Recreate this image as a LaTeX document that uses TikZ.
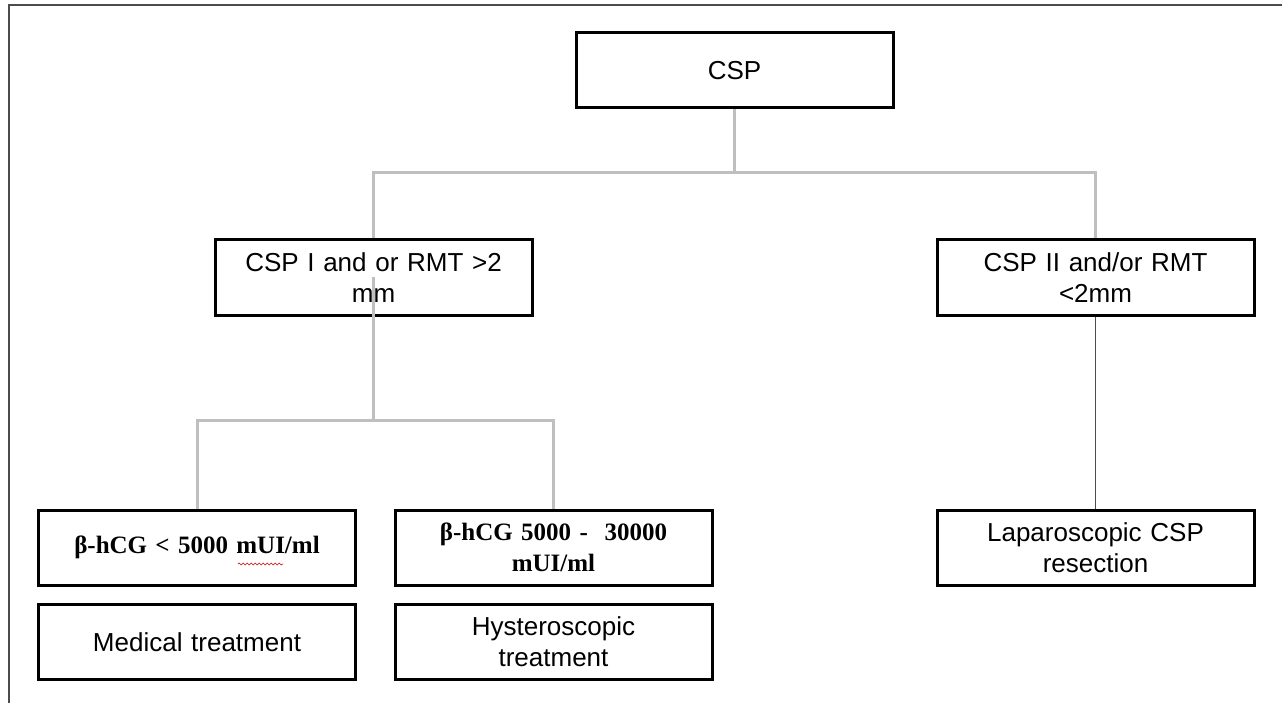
\documentclass[tikz,border=0pt]{standalone}
\usepackage{fontspec}
\setmainfont{Liberation Serif}
\newfontfamily\boxfont{Liberation Sans}
\usetikzlibrary{decorations.pathmorphing}

\begin{document}
\begin{tikzpicture}[x=1pt,y=-1pt]
  % Local definitions
  \def\boxw{317pt}
  \def\boxh{75pt}

  % Colors
  \colorlet{branchgrey}{black!25}
  \colorlet{framegrey}{black!70}

  % Styles
  \tikzstyle{frame}=[framegrey,line width=1.5pt]
  \tikzstyle{box}=[draw,line width=3pt,minimum width=\boxw,minimum height=\boxh,
    text width=300pt,align=center,inner sep=0pt,
    font=\boxfont\fontsize{26}{31}\selectfont]
  \tikzstyle{value box}=[box,font=\bfseries\fontsize{25}{31}\selectfont]
  \tikzstyle{branch}=[branchgrey,line width=3pt]
  \tikzstyle{thin branch}=[framegrey,line width=1.2pt]

  \useasboundingbox (0,0) rectangle (1282,703);
  \draw[frame] (9,703) -- (9,5) -- (1282,5);

  % The boxes
  \node[box] (csp) at (734.5,70.5) {CSP};

  \node[box] (type1) at (373.5,277.5) {CSP I and or RMT >2\\ mm};
  \node[box] (type2) at (1095.5,277.5) {CSP II and/or RMT\\ <2mm};

  \node[value box] (low) at (197,547.5) {β-hCG < 5000 mUI/ml};
  \node[value box] (high) at (553.5,547.5) {β-hCG 5000 -~~30000\\ mUI/ml};
  \node[box] (medical) at (197,642) {Medical treatment};
  \node[box] (hystero) at (553.5,642) {Hysteroscopic\\ treatment};

  \node[box] (lapa) at (1095.5,547.5) {Laparoscopic CSP\\ resection};

  % The branches
  \coordinate (top fork) at (734.5,173);
  \coordinate (low fork) at (373.5,420);

  \draw[branch] (csp.south) -- (top fork);
  \draw[branch] (type1.north) |- (top fork) -| (type2.north);
  \draw[branch] (type1.center) -- (low fork);
  \draw[branch] (low.north) |- (low fork) -| (high.north);
  \draw[thin branch] (type2.south) -- (lapa.north);

  % spell check mark
  \draw[red!80!black,line width=0.6pt,decorate,
    decoration={snake,amplitude=0.9pt,segment length=4pt}] (238,564) -- (283,564);
\end{tikzpicture}
\end{document}
